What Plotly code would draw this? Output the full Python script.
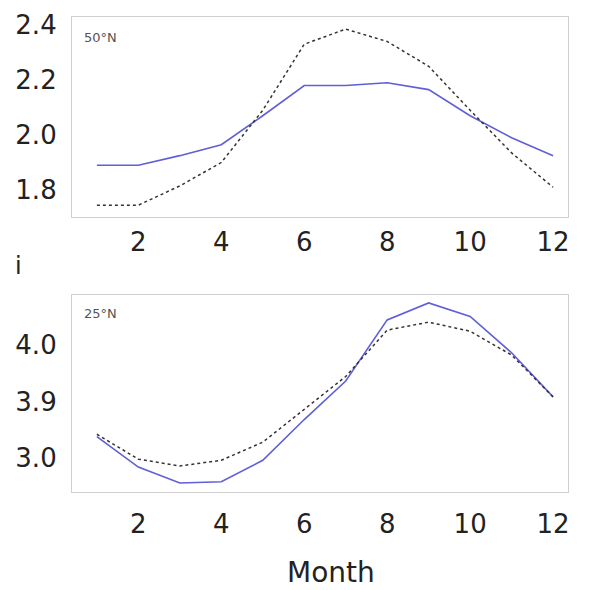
import plotly.graph_objects as go

months = list(range(1, 13))

# 50°N panel
n50_model = [1.89, 1.89, 1.925, 1.965, 2.07, 2.18, 2.18, 2.19, 2.165, 2.07, 1.99, 1.925]
n50_obs = [1.745, 1.745, 1.815, 1.90, 2.09, 2.33, 2.385, 2.34, 2.25, 2.09, 1.935, 1.81]

# 25°N panel (internal scale; tick labels as printed)
n25_model = [3.19, 2.92, 2.78, 2.79, 2.98, 3.34, 3.68, 4.22, 4.37, 4.25, 3.93, 3.54]
n25_obs = [3.21, 2.99, 2.93, 2.98, 3.14, 3.43, 3.72, 4.13, 4.20, 4.12, 3.91, 3.54]

top_ticks = [1.8, 2.0, 2.2, 2.4]
top_ticktext = ["1.8", "2.0", "2.2", "2.4"]
bot_ticks = [3.0, 3.5, 4.0]
bot_ticktext = ["3.0", "3.9", "4.0"]
x_ticks = [2, 4, 6, 8, 10, 12]

# page body has an 8px margin; figure sized to fit the window
OFF = 8
W, H = 596 - OFF, 590 - OFF


def px(x):
    return (x - OFF) / W


def py(y):
    return 1 - (y - OFF) / H


blue = "#5f5fd6"
dark = "#333333"

fig = go.Figure()
fig.add_trace(go.Scatter(x=months, y=n50_model, mode="lines", line=dict(color=blue, width=1.6),
                         xaxis="x", yaxis="y", showlegend=False))
fig.add_trace(go.Scatter(x=months, y=n50_obs, mode="lines", line=dict(color=dark, width=1.5, dash="dot"),
                         xaxis="x", yaxis="y", showlegend=False))
fig.add_trace(go.Scatter(x=months, y=n25_model, mode="lines", line=dict(color=blue, width=1.6),
                         xaxis="x2", yaxis="y2", showlegend=False))
fig.add_trace(go.Scatter(x=months, y=n25_obs, mode="lines", line=dict(color=dark, width=1.5, dash="dot"),
                         xaxis="x2", yaxis="y2", showlegend=False))

font_family = "DejaVu Sans, sans-serif"
tickfont = dict(family=font_family, size=26, color="#222222")
frame = dict(showline=True, linecolor="#cfcfcf", linewidth=1.2, mirror=True,
             showgrid=False, zeroline=False, automargin=False)

xdom = [px(72), px(568)]
fig.update_layout(
    width=W, height=H,
    margin=dict(l=0, r=0, t=0, b=0),
    paper_bgcolor="white", plot_bgcolor="white",
    xaxis=dict(domain=xdom, anchor="y", range=[0.4, 12.36], tickvals=x_ticks,
               ticks="outside", ticklen=2, tickcolor="rgba(0,0,0,0)", tickfont=tickfont, **frame),
    yaxis=dict(domain=[py(217), py(17)], anchor="x", range=[1.702, 2.429],
               tickvals=top_ticks, ticktext=top_ticktext,
               ticks="outside", ticklen=9, tickcolor="rgba(0,0,0,0)", tickfont=tickfont, **frame),
    xaxis2=dict(domain=xdom, anchor="y2", range=[0.4, 12.36], tickvals=x_ticks,
                ticks="outside", ticklen=9, tickcolor="rgba(0,0,0,0)", tickfont=tickfont, **frame),
    yaxis2=dict(domain=[py(492), py(295)], anchor="x2", range=[2.70, 4.44],
                tickvals=bot_ticks, ticktext=bot_ticktext,
                ticks="outside", ticklen=9, tickcolor="rgba(0,0,0,0)", tickfont=tickfont, **frame),
    annotations=[
        dict(text="50°N", x=px(82), y=py(37), xref="paper", yref="paper", showarrow=False,
             xanchor="left", yanchor="middle", font=dict(family=font_family, size=13, color="#555555")),
        dict(text="25°N", x=px(82), y=py(313), xref="paper", yref="paper", showarrow=False,
             xanchor="left", yanchor="middle", font=dict(family=font_family, size=13, color="#555555")),
        dict(text="i", x=px(18), y=py(266), xref="paper", yref="paper", showarrow=False,
             xanchor="center", yanchor="middle", font=dict(family=font_family, size=24, color="#222222")),
        dict(text="Month", x=px(331), y=py(572), xref="paper", yref="paper", showarrow=False,
             xanchor="center", yanchor="middle", font=dict(family=font_family, size=28, color="#222222")),
    ],
)

fig.write_html("out.html")
